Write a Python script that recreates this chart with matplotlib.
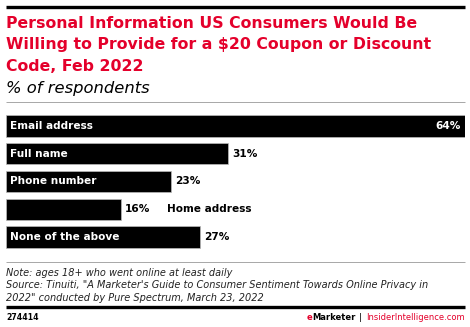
import matplotlib
matplotlib.use("Agg")
import matplotlib.pyplot as plt
from matplotlib.lines import Line2D

categories = ["Email address", "Full name", "Phone number", "Home address", "None of the above"]
values = [64, 31, 23, 16, 27]

title_lines = ["Personal Information US Consumers Would Be",
               "Willing to Provide for a $20 Coupon or Discount",
               "Code, Feb 2022"]
subtitle = "% of respondents"
note_lines = ["Note: ages 18+ who went online at least daily",
              "Source: Tinuiti, \"A Marketer's Guide to Consumer Sentiment Towards Online Privacy in",
              "2022\" conducted by Pure Spectrum, March 23, 2022"]
chart_id = "274414"

RED = "#e4002b"
W, H = 470, 327
FONT = "DejaVu Sans"

fig = plt.figure(figsize=(W / 100, H / 100), dpi=100)
fig.patch.set_facecolor("white")


def fx(px):
    return px / W


def fy(py):
    return 1 - py / H


def hline(y, x0, x1, lw, color):
    fig.add_artist(Line2D([fx(x0), fx(x1)], [fy(y), fy(y)], lw=lw, color=color,
                          transform=fig.transFigure, solid_capstyle="butt"))


# header
hline(6.5, 6, 465, 2.4, "black")
for line, base in zip(title_lines, [28.5, 49.5, 71]):
    fig.text(fx(6), fy(base), line, ha="left", va="baseline", fontsize=11.35,
             fontweight="bold", color=RED, family=FONT)
fig.text(fx(6), fy(93), subtitle, ha="left", va="baseline", fontsize=11.8, style="italic",
         color="black", family=FONT)
hline(102, 6, 465, 0.6, "#999999")

# bars
ax = fig.add_axes([fx(6), fy(251), fx(465) - fx(6), fy(112) - fy(251)])
y = list(range(len(categories)))
ax.barh(y, values, height=0.77, color="black", edgecolor="#bbbbbb", linewidth=0.5)
ax.set_xlim(0, max(values))
ax.set_ylim(len(categories) - 0.5, -0.5)
ax.axis("off")

LBL = 7.6
for i, (cat, v) in enumerate(zip(categories, values)):
    if v == max(values):
        ax.text(v - 0.6, i, f"{v}%", ha="right", va="center", color="white",
                fontsize=LBL, fontweight="bold", family=FONT)
    else:
        ax.text(v + 0.6, i, f"{v}%", ha="left", va="center", color="black",
                fontsize=LBL, fontweight="bold", family=FONT)
    if cat == "Home address":
        ax.text(v + 6.4, i, cat, ha="left", va="center", color="black",
                fontsize=LBL, fontweight="bold", family=FONT)
    else:
        ax.text(0.55, i, cat, ha="left", va="center", color="white",
                fontsize=LBL, fontweight="bold", family=FONT)

# footer
hline(262, 6, 465, 0.6, "#999999")
for line, base in zip(note_lines, [276, 288.5, 300.8]):
    fig.text(fx(6), fy(base), line, ha="left", va="baseline", fontsize=7.07,
             style="italic", color="#222222", family=FONT)
hline(306.5, 6, 465, 2.4, "black")
fig.text(fx(6), fy(317), chart_id, ha="left", va="center", fontsize=5.6,
         fontweight="bold", color="black", family=FONT)

FS = 6.0
t1 = fig.text(fx(465), fy(317), "InsiderIntelligence.com", ha="right", va="center",
              fontsize=FS, color=RED, family=FONT)
fig.canvas.draw()
r = fig.canvas.get_renderer()
bb = t1.get_window_extent(r)
t2 = fig.text(bb.x0 / W - fx(4), fy(317), "|", ha="right", va="center",
              fontsize=FS, color="black", family=FONT)
bb2 = t2.get_window_extent(r)
t3 = fig.text(bb2.x0 / W - fx(4), fy(317), "Marketer", ha="right", va="center",
              fontsize=FS, fontweight="bold", color="black", family=FONT)
bb3 = t3.get_window_extent(r)
fig.text(bb3.x0 / W, fy(317), "e", ha="right", va="center",
         fontsize=FS, fontweight="bold", color=RED, family=FONT)

fig.savefig("out.png", dpi=100, facecolor="white")
